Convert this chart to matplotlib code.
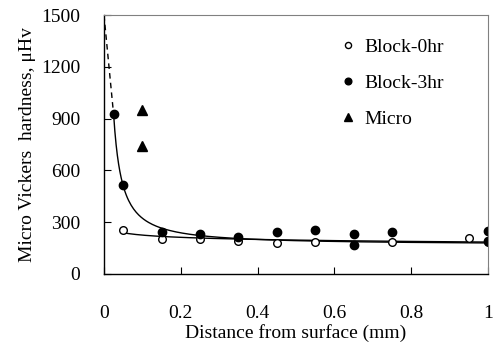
import numpy as np
import matplotlib
matplotlib.use('Agg')
import matplotlib.pyplot as plt

plt.rcParams['font.family'] = ['Liberation Serif', 'DejaVu Serif']
plt.rcParams['font.size'] = 14

# measured points
x_0hr = [0.05, 0.15, 0.25, 0.35, 0.45, 0.55, 0.75, 0.95, 1.0]
y_0hr = [255, 203, 200, 190, 181, 185, 184, 207, 185]

x_3hr = [0.025, 0.05, 0.15, 0.25, 0.35, 0.45, 0.55, 0.65, 0.65, 0.75, 1.0, 1.0]
y_3hr = [925, 515, 243, 232, 216, 241, 257, 233, 166, 241, 249, 193]

x_micro = [0.1, 0.1]
y_micro = [950, 740]

# trend lines
fit_0hr = (185, -0.0855)          # a * x**b
fit_3hr = (169, 10.9, 1.15)       # c + a * x**-b
dash_x = [0.0, 0.025]
dash_y = [1500, 925]

fig, ax = plt.subplots(figsize=(4.94, 3.45), dpi=100)
fig.subplots_adjust(left=0.2105, right=0.988, bottom=0.2058, top=0.9565)

xs = np.linspace(0.05, 1.0, 200)
ax.plot(xs, fit_0hr[0] * xs ** fit_0hr[1], color='black', lw=1.0)
xs3 = np.linspace(0.025, 1.0, 300)
ax.plot(xs3, fit_3hr[0] + fit_3hr[1] * xs3 ** -fit_3hr[2], color='black', lw=1.0)
ax.plot(dash_x, dash_y, color='black', lw=1.0, ls=(0, (4, 3)))

ax.plot(x_0hr, y_0hr, 'o', mfc='white', mec='black', mew=1.0, ms=5.5, label='Block-0hr')
ax.plot(x_3hr, y_3hr, 'o', color='black', ms=6, label='Block-3hr')
ax.plot(x_micro, y_micro, '^', color='black', ms=7, label='Micro')

ax.set_xlim(0, 1)
ax.set_ylim(0, 1500)
ax.set_xticks([0, 0.2, 0.4, 0.6, 0.8, 1])
ax.set_xticklabels(['0', '0.2', '0.4', '0.6', '0.8', '1'])
ax.set_yticks([0, 300, 600, 900, 1200, 1500])
ax.tick_params(axis='x', direction='in', length=5, pad=22)
ax.tick_params(axis='y', direction='in', length=5, pad=17)

for side in ['top', 'right']:
    ax.spines[side].set_color('#808080')
ax.spines['left'].set_linewidth(1.0)
ax.spines['bottom'].set_linewidth(1.0)

ax.set_xlabel('Distance from surface (mm)', labelpad=2)
ax.set_ylabel('Micro Vickers  hardness, μHv', labelpad=4)

ax.legend(loc='upper left', bbox_to_anchor=(0.594, 0.94), frameon=False,
          markerscale=0.8, handlelength=0.8, handletextpad=0.45,
          labelspacing=0.95, borderaxespad=0)

fig.savefig('out.png')
